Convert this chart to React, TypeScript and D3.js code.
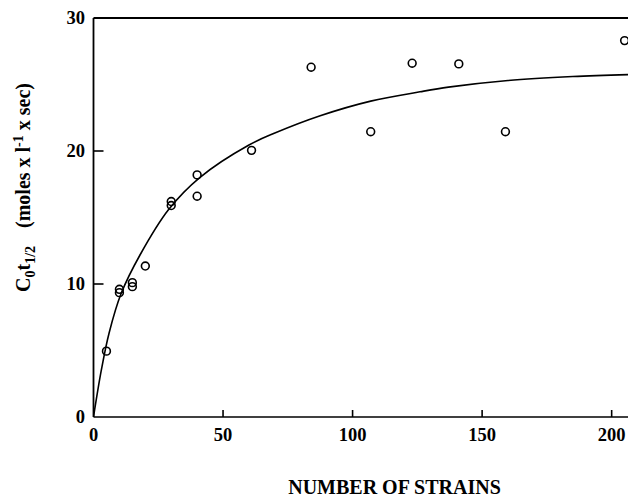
import React from "react";
import * as d3 from "d3";

const strains = [5, 10, 10, 15, 15, 20, 30, 30, 40, 40, 61, 84, 107, 123, 141, 159, 205];
const cotValues = [4.95, 9.6, 9.35, 10.1, 9.8, 11.35, 16.2, 15.9, 18.2, 16.6, 20.05, 26.3, 21.45, 26.6, 26.55, 21.45, 28.3];
const fitX = [0, 3, 6, 10.7, 18, 29, 41, 60, 70, 87.5, 107, 126, 137, 160, 185, 207];
const fitY = [0, 3.5, 6.3, 9.3, 12.2, 15.6, 18.0, 20.45, 21.35, 22.65, 23.75, 24.45, 24.8, 25.3, 25.6, 25.75];
const xTicks = [0, 50, 100, 150, 200];
const yTicks = [0, 10, 20, 30];

const W = 628, H = 497;
const FONT = "'Liberation Serif', 'Times New Roman', serif";

export default function App() {
  const x = d3.scaleLinear().domain([0, 206.5]).range([93.5, 628.5]);
  const y = d3.scaleLinear().domain([0, 30]).range([417, 18]);
  const line = d3.line<number>()
    .x((_, i) => x(fitX[i]))
    .y((d) => y(d))
    .curve(d3.curveCatmullRom.alpha(0.5));
  const x0 = x(0), y0 = y(0), yTop = y(30);
  return (
    <svg width={W} height={H} style={{ position: "absolute", left: 0, top: 0, background: "#fff" }}>
      <defs>
        <clipPath id="plot">
          <rect x={x0} y={yTop} width={W - x0} height={y0 - yTop} />
        </clipPath>
      </defs>
      {/* axes frame */}
      <line x1={x0} x2={W} y1={yTop} y2={yTop} stroke="#000" strokeWidth={2} />
      <line x1={x0} x2={x0} y1={yTop} y2={y0} stroke="#000" strokeWidth={1.8} />
      <line x1={x0} x2={W} y1={y0} y2={y0} stroke="#000" strokeWidth={1.6} />
      {/* ticks */}
      {xTicks.filter((t) => t > 0).map((t) => (
        <line key={"xt" + t} x1={x(t)} x2={x(t)} y1={y0} y2={y0 - 7} stroke="#000" strokeWidth={1.6} />
      ))}
      {yTicks.filter((t) => t > 0 && t < 30).map((t) => (
        <line key={"yt" + t} x1={x0} x2={x0 + 10} y1={y(t)} y2={y(t)} stroke="#000" strokeWidth={1.6} />
      ))}
      {xTicks.map((t) => (
        <text key={"xl" + t} x={x(t)} y={y0 + 24} textAnchor="middle" fontFamily={FONT} fontWeight="bold" fontSize={18.5}>
          {t}
        </text>
      ))}
      {yTicks.map((t) => (
        <text key={"yl" + t} x={85} y={y(t) + 6} textAnchor="end" fontFamily={FONT} fontWeight="bold" fontSize={18.5}>
          {t}
        </text>
      ))}
      {/* fitted curve */}
      <g clipPath="url(#plot)">
        <path d={line(fitY) || ""} fill="none" stroke="#000" strokeWidth={1.6} />
      </g>
      {/* data points */}
      {strains.map((s, i) => (
        <circle key={"p" + i} cx={x(s)} cy={y(cotValues[i])} r={3.9} fill="none" stroke="#000" strokeWidth={1.6} />
      ))}
      {/* axis titles */}
      <text x={394.5} y={494} textAnchor="middle" fontFamily={FONT} fontWeight="bold" fontSize={20}>
        NUMBER OF STRAINS
      </text>
      <text transform="translate(30,187.5) rotate(-90)" textAnchor="middle" fontFamily={FONT} fontWeight="bold" fontSize={20}>
        <tspan>C</tspan>
        <tspan fontSize={14} dy={5}>0</tspan>
        <tspan dy={-5}>t</tspan>
        <tspan fontSize={14} dy={5}>1/2</tspan>
        <tspan dy={-5} dx={18}>(moles x l</tspan>
        <tspan fontSize={14} dy={-7}>-1</tspan>
        <tspan dy={7}> x sec)</tspan>
      </text>
    </svg>
  );
}
